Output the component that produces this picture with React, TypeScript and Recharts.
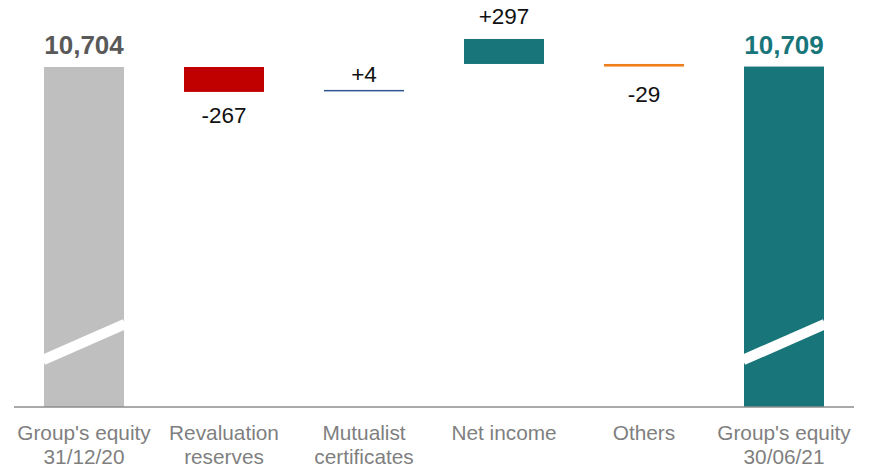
import React from "react";
import { BarChart, Bar, XAxis, YAxis, LabelList } from "recharts";

// broken axis: the hidden y scale starts well above zero
const Y_MIN = 6896;
const Y_MAX = 11152;

const categories = [
  "Group's equity\n31/12/20",
  "Revaluation\nreserves",
  "Mutualist\ncertificates",
  "Net income",
  "Others",
  "Group's equity\n30/06/21",
];
const values = [10704, -267, 4, 297, -29, 10709];
const valueLabels = ["10,704", "-267", "+4", "+297", "-29", "10,709"];
const barBottom = [Y_MIN, 10425, 10437, 10738, 10709, Y_MIN];
const barTop = [10704, 10704, 10441, 11018, 10738, 10709];

const colors = ["#bfbfbf", "#c00000", "#2f5597", "#18767a", "#f07e1b", "#18767a"];
const labelColors = ["#595959", "#111", "#111", "#111", "#111", "#18767a"];
const labelGap = [13, 31, 8, 15, 35, 13];

const data = categories.map((name, i) => ({
  name,
  range: [barBottom[i], barTop[i]],
  isTotal: i === 0 || i === categories.length - 1,
}));

const font = "'Liberation Sans', Arial, sans-serif";

const WaterfallShape = (props: any) => {
  const { x, width, index } = props;
  let { y, height } = props;
  const isTotal = data[index].isTotal;
  if (height < 1.5) {
    y = y + height / 2 - 0.75;
    height = 1.5;
  }
  const bottom = y + height;
  return (
    <g>
      <rect x={x} y={y} width={width} height={height} fill={colors[index]} />
      {isTotal && (
        <line
          x1={x - 1}
          y1={bottom - 47}
          x2={x + width + 1}
          y2={bottom - 83}
          stroke="#fff"
          strokeWidth={10.5}
        />
      )}
    </g>
  );
};

const ValueLabel = (props: any) => {
  const { x, y, width, height, index } = props;
  const isTotal = data[index].isTotal;
  const below = values[index] < 0;
  const ty = below ? y + height + labelGap[index] : y - labelGap[index];
  return (
    <text
      x={x + width / 2}
      y={ty}
      textAnchor="middle"
      fontFamily={font}
      fontSize={isTotal ? 26 : 22.5}
      fontWeight={isTotal ? "bold" : "normal"}
      fill={labelColors[index]}
    >
      {valueLabels[index]}
    </text>
  );
};

const CategoryTick = (props: any) => {
  const { x, y, payload } = props;
  const lines = String(payload.value).split("\n");
  return (
    <text textAnchor="middle" fontFamily={font} fontSize={20.8} fill="#7f7f7f">
      {lines.map((line, i) => (
        <tspan key={i} x={x} y={y + 33 + i * 24}>
          {line}
        </tspan>
      ))}
    </text>
  );
};

export default function App() {
  return (
    <div style={{ position: "absolute", left: 0, top: 0, background: "#fff" }}>
      <BarChart
        width={872}
        height={469}
        data={data}
        margin={{ top: 27, right: 18, bottom: 0, left: 14 }}
        barCategoryGap={30}
      >
        <XAxis
          dataKey="name"
          height={62}
          interval={0}
          tickLine={false}
          tickSize={0}
          tickMargin={0}
          axisLine={{ stroke: "#8c8c8c", strokeWidth: 1.5 }}
          tick={<CategoryTick />}
        />
        <YAxis hide domain={[Y_MIN, Y_MAX]} allowDataOverflow />
        <Bar dataKey="range" isAnimationActive={false} shape={<WaterfallShape />}>
          <LabelList dataKey="range" content={<ValueLabel />} />
        </Bar>
      </BarChart>
    </div>
  );
}
